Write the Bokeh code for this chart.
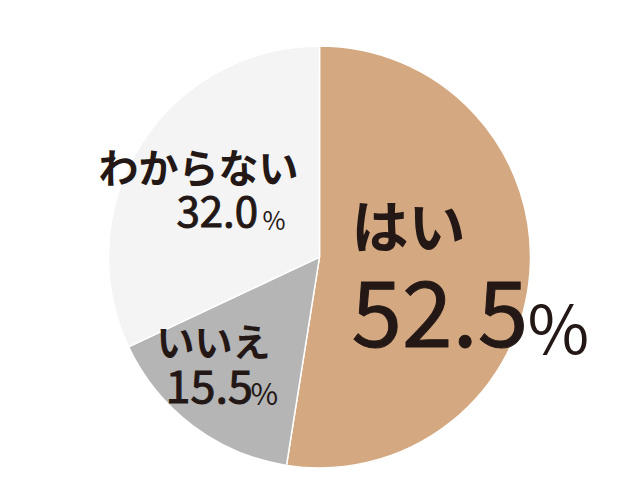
from bokeh.plotting import figure
from bokeh.models import Range1d, ColumnDataSource
from bokeh.core.properties import value
from bokeh.embed import file_html
from bokeh.resources import INLINE
import math

labels = ["はい", "いいえ", "わからない"]
values = [52.5, 15.5, 32.0]
colors = ["#d4a880", "#b5b5b6", "#f4f4f4"]

W, H = 624, 484
p = figure(width=W, height=H, output_backend="svg", toolbar_location=None,
           x_range=Range1d(1, 1 + W), y_range=Range1d(15, 15 + H), min_border=0)
p.axis.visible = False
p.grid.visible = False
p.outline_line_color = None
p.background_fill_color = "white"

def sy(y):
    return 500 - y

total = sum(values)
starts, ends = [], []
cum = 0.0
for v in values:
    starts.append(math.pi / 2 - 2 * math.pi * cum / total)
    cum += v
    ends.append(math.pi / 2 - 2 * math.pi * cum / total)

src = ColumnDataSource(dict(start=starts, end=ends, color=colors, label=labels, val=values))
p.wedge(x=320, y=sy(257.5), radius=211, start_angle="start", end_angle="end",
        direction="clock", fill_color="color", line_color="white", line_width=1.5, source=src)

font = value("Noto Sans CJK JP")
ink = "#231815"

# label layout: name (x, y, size), number (x, y, size), percent sign (x, y, size)
layout = {
    "はい": ((352, 223, 57), (352, 313.5, 91), (528, 324.5, 67)),
    "いいえ": ((157, 340, 38), (166, 386.5, 45), (251, 392.5, 30)),
    "わからない": ((99, 166, 40), (177, 212, 42), (263, 219.5, 25)),
}

for lab, v in zip(labels, values):
    (nx, ny, ns), (vx, vy, vs), (px, py, ps) = layout[lab]
    p.text(x=[nx], y=[sy(ny)], text=[lab], text_font=font, text_font_style="bold",
           text_font_size=f"{ns}px", text_color=ink, text_align="left", text_baseline="middle")
    p.text(x=[vx], y=[sy(vy)], text=[f"{v:.1f}"], text_font=font, text_font_size=f"{vs}px",
           text_color=ink, text_outline_color=ink, text_align="left", text_baseline="middle")
    p.text(x=[px], y=[sy(py)], text=["%"], text_font=font, text_font_size=f"{ps}px",
           text_color=ink, text_align="left", text_baseline="middle")

open("out.html", "w").write(file_html(p, INLINE))
